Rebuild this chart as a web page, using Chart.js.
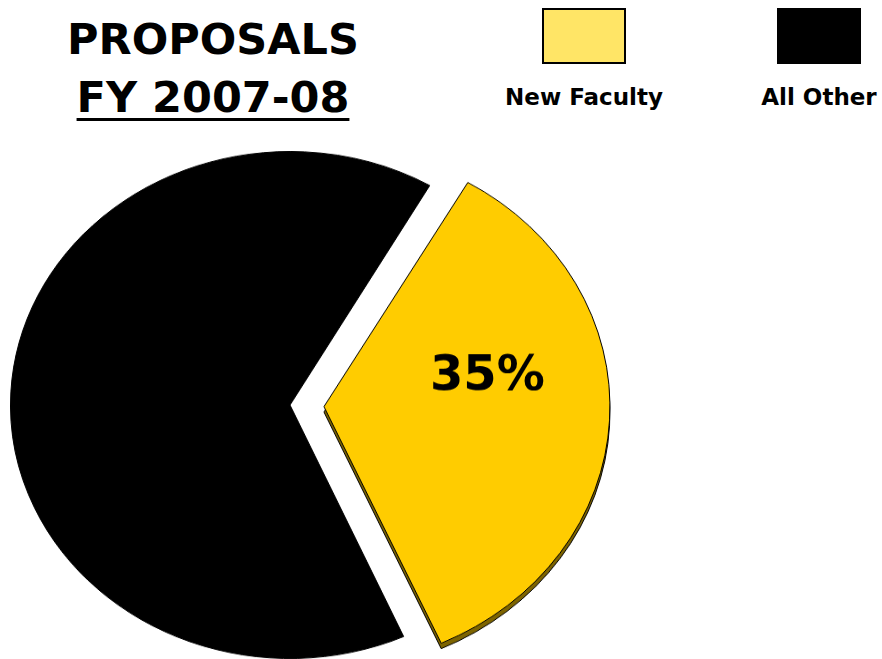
<!DOCTYPE html>
<html>
<head>
<meta charset="utf-8">
<script src="https://cdn.jsdelivr.net/npm/chart.js@4/dist/chart.umd.min.js"></script>
<style>
  html, body { margin: 0; padding: 0; background: #fff; }
  body { width: 882px; height: 659px; overflow: hidden; position: relative; font-family: "DejaVu Sans", Verdana, sans-serif; }
  .title { position: absolute; left: 0; width: 426px; text-align: center; font-weight: bold; font-size: 43px; color: #000; line-height: 1; }
  .title.t1 { top: 18px; }
  .title.t2 { top: 76px; }
  .title.t2 span { text-decoration: underline; text-decoration-thickness: 3px; text-underline-offset: 6px; }
  .leg { position: absolute; top: 8px; width: 160px; text-align: center; }
  .leg .box { width: 80px; height: 52px; border: 2px solid #000; margin: 0 auto; }
  .leg .lbl { margin-top: 20px; font-weight: bold; font-size: 23px; color: #000; white-space: nowrap; }
  #pie { position: absolute; left: -58px; top: 57px; width: 696px; height: 696px; transform: scaleY(0.907); transform-origin: 50% 50%; }
</style>
</head>
<body>
<div class="title t1" id="t1"></div>
<div class="title t2"><span id="t2"></span></div>
<div id="legend"></div>
<canvas id="pie" width="696" height="696"></canvas>
<script>
const titleLines = ['PROPOSALS', 'FY 2007-08'];
const categories = ['New Faculty', 'All Other'];
const values = [35, 65];
const sliceColors = ['#FFCC00', '#000000'];
const legendColors = ['#FFE566', '#000000'];
const sliceOffsets = [136, 0]; // chart.js moves the arc by offset / 4
const valueLabels = ['35%', ''];

const squash = 0.907;

document.getElementById('t1').textContent = titleLines[0];
document.getElementById('t2').textContent = titleLines[1];

// legend: big swatch with label underneath
const legendLeft = [504, 739];
const legend = document.getElementById('legend');
categories.forEach((name, i) => {
  let item = document.createElement('div');
  item.className = 'leg';
  item.style.left = legendLeft[i] + 'px';
  let box = document.createElement('div');
  box.className = 'box';
  box.style.background = legendColors[i];
  let lbl = document.createElement('div');
  lbl.className = 'lbl';
  lbl.textContent = name;
  item.appendChild(box);
  item.appendChild(lbl);
  legend.appendChild(item);
});

// fake 3d edge under the pulled-out slice
const depthPlugin = {
  id: 'depth',
  beforeDatasetsDraw(chart) {
    const arc = chart.getDatasetMeta(0).data[0];
    const saved = arc.options;
    arc.options = Object.assign({}, saved, { backgroundColor: '#7d6400', borderColor: '#000' });
    const ctx = chart.ctx;
    ctx.save();
    ctx.translate(0, 6);
    arc.draw(ctx);
    ctx.restore();
    arc.options = saved;
  }
};

const labelPlugin = {
  id: 'sliceLabel',
  afterDatasetsDraw(chart) {
    const ctx = chart.ctx;
    chart.getDatasetMeta(0).data.forEach((arc, i) => {
      if (!valueLabels[i]) return;
      const p = arc.getProps(['x', 'y', 'outerRadius']);
      ctx.save();
      ctx.translate(p.x + p.outerRadius * 0.706, p.y - p.outerRadius * 0.11);
      ctx.scale(1, 1 / squash);
      ctx.fillStyle = '#000';
      ctx.font = 'bold 48px "DejaVu Sans"';
      ctx.textAlign = 'center';
      ctx.textBaseline = 'middle';
      ctx.fillText(valueLabels[i], 0, 0);
      ctx.restore();
    });
  }
};

new Chart(document.getElementById('pie'), {
  type: 'pie',
  data: {
    labels: categories,
    datasets: [{
      data: values,
      backgroundColor: sliceColors,
      borderColor: '#000',
      borderWidth: 1,
      offset: sliceOffsets
    }]
  },
  options: {
    responsive: false,
    animation: false,
    rotation: 30,
    layout: { padding: 0 },
    plugins: {
      legend: { display: false },
      tooltip: { enabled: false }
    }
  },
  plugins: [depthPlugin, labelPlugin]
});
</script>
</body>
</html>
